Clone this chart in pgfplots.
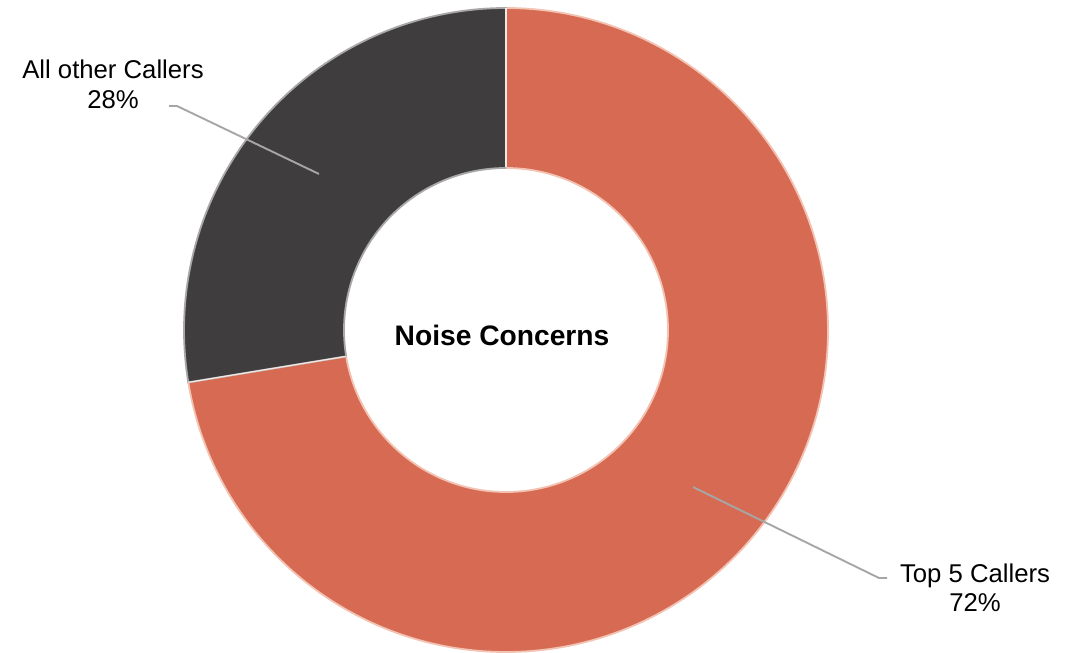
\documentclass[border=0pt]{standalone}
\usepackage{pgfplots}
\pgfplotsset{compat=1.18}
\usepackage{fontspec}
\setmainfont{Liberation Sans}
\definecolor{segorange}{HTML}{D76A53}
\definecolor{segdark}{HTML}{403D3E}
\definecolor{edgeorange}{HTML}{F2C2B2}
\definecolor{edgedark}{HTML}{A8A8A8}
\definecolor{leader}{HTML}{A6A6A6}
\definecolor{sep}{HTML}{F3E8E4}
% values (percent)
\def\valTop{72.4}
\def\valOther{27.6}
\begin{document}
\begin{tikzpicture}
\pgfmathsetmacro{\aStart}{90}
\pgfmathsetmacro{\aMid}{90+\valOther*3.6}
\pgfmathsetmacro{\aEnd}{90+360}
\pgfmathsetmacro{\sepX}{506+322*cos(\aMid)}
\pgfmathsetmacro{\sepY}{322+322*sin(\aMid)}
\begin{axis}[
  width=539.5pt, height=326pt, scale only axis,
  xmin=0, xmax=1079, ymin=0, ymax=652,
  hide axis, clip=true,
]
% Top 5 Callers sector
\addplot[fill=segorange, draw=edgeorange, line width=0.9pt, domain=\aMid:\aEnd, samples=240]
  ({506+322*cos(x)},{322+322*sin(x)}) -- (506,322) -- cycle;
% All other Callers sector
\addplot[fill=segdark, draw=edgedark, line width=0.9pt, domain=\aStart:\aMid, samples=120]
  ({506+322*cos(x)},{322+322*sin(x)}) -- (506,322) -- cycle;
% separators
\addplot[sep, line width=0.6pt] coordinates {(506,322) (506,644)};
\addplot[sep, line width=0.6pt] coordinates {(506,322) (\sepX,\sepY)};
% hole
\addplot[fill=white, draw=none, domain=0:360, samples=240]
  ({506+162*cos(x)},{322+162*sin(x)}) -- cycle;
\addplot[draw=edgeorange, line width=0.9pt, domain=\aMid:\aEnd, samples=240]
  ({506+162*cos(x)},{322+162*sin(x)});
\addplot[draw=edgedark, line width=0.9pt, domain=\aStart:\aMid, samples=120]
  ({506+162*cos(x)},{322+162*sin(x)});
% leader lines
\addplot[leader, line width=0.95pt] coordinates {(169,546) (177,546) (319,478)};
\addplot[leader, line width=0.95pt] coordinates {(693,165) (879,74) (887,74)};
% labels
\node[anchor=base, font=\fontsize{12.85}{15}\selectfont] at (113,573) {All other Callers};
\node[anchor=base, font=\fontsize{12.85}{15}\selectfont] at (113,543) {28\%};
\node[anchor=base, font=\fontsize{12.85}{15}\selectfont] at (975,70) {Top 5 Callers};
\node[anchor=base, font=\fontsize{12.85}{15}\selectfont] at (975,41) {72\%};
\node[anchor=base, font=\bfseries\fontsize{14.1}{17}\selectfont] at (502,307) {Noise Concerns};
\end{axis}
\pgfresetboundingbox
\path (current axis.south west) rectangle (current axis.north east);
\end{tikzpicture}
\end{document}
